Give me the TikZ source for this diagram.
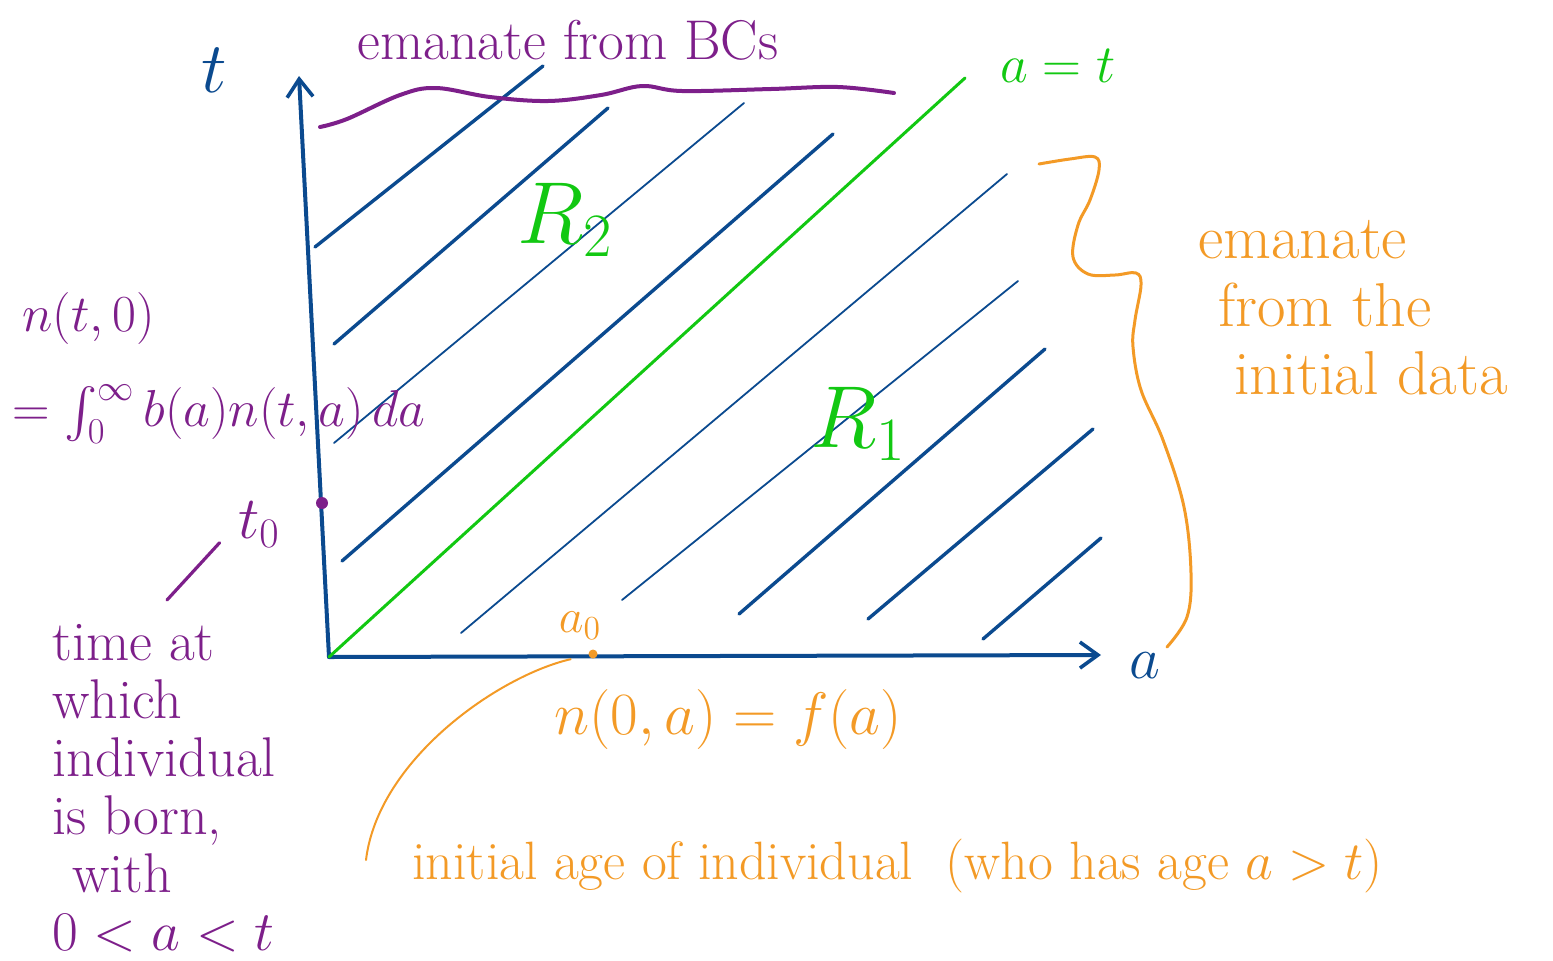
\documentclass[tikz,border=0pt]{standalone}
\usepackage{fix-cm}
\usepackage{amsmath}
\usepackage{tikz}
\usetikzlibrary{arrows.meta}
\definecolor{penblue}{HTML}{0B4A8F}
\definecolor{pengreen}{HTML}{12C812}
\definecolor{penpurple}{HTML}{7D1F8A}
\definecolor{penorange}{HTML}{F39A26}

\begin{document}
\begin{tikzpicture}[x=0.5pt,y=-0.5pt,
  axis/.style={penblue,line width=2pt,line cap=round,
    -{Straight Barb[length=9pt,width=13pt,line width=1.8pt]}},
  hatch/.style={penblue,line width=1.7pt,line cap=round},
  hatchthin/.style={penblue,line width=0.9pt,line cap=round},
  lbl/.style={inner sep=1pt}]
  \useasboundingbox (0,0) rectangle (1553,960);

  % axes and the characteristic a = t
  \coordinate (O) at (329,657);
  \coordinate (ttop) at (299,76);
  \coordinate (aend) at (1101,655);
  \coordinate (diagtop) at (965,78);
  \draw[axis] (O) -- (ttop);
  \draw[axis] (O) -- (aend);
  \draw[pengreen,line width=1.5pt,line cap=round] (O) -- (diagtop);
  \node[lbl,penblue,font=\fontsize{36}{40}\selectfont] (tlab) at (214,70) {$t$};
  \node[lbl,penblue,font=\fontsize{30}{34}\selectfont] (alab) at (1145,666) {$a$};
  \node[lbl,pengreen,font=\fontsize{27}{30}\selectfont] (diag) at (1058,66) {$a=t$};

  % characteristics
  \foreach \xa/\ya/\xb/\yb in {315/247/543/66, 334/344/608/108, 342/561/833/134,
      739/614/1045/349, 868/619/1093/429, 983/639/1101/538}
    \draw[hatch] (\xa,\ya) -- (\xb,\yb);
  \foreach \xa/\ya/\xb/\yb in {334/443/744/103, 461/633/1007/174, 622/600/1018/281}
    \draw[hatchthin] (\xa,\ya) -- (\xb,\yb);
  \node[pengreen,font=\fontsize{44}{48}\selectfont] (Rtwo) at (565,220) {$R_2$};
  \node[pengreen,font=\fontsize{44}{48}\selectfont] (Rone) at (858,424) {$R_1$};

  % boundary condition
  \draw[penpurple,line width=2pt,line cap=round] plot[smooth,tension=0.6] coordinates
    {(320,127) (347,119) (400,95) (436,88) (490,97) (548,101) (601,95) (642,86)
     (682,91) (771,89) (838,87) (894,93)};
  \node[lbl,penpurple,font=\fontsize{28}{30}\selectfont] (bcs) at (568,40) {emanate from BCs};
  \node[lbl,penpurple,anchor=west,font=\fontsize{26}{28}\selectfont] (nbound) at (20,318) {$n(t,0)$};
  \node[lbl,penpurple,anchor=west,font=\fontsize{26}{28}\selectfont] (bint) at (10,414)
    {$=\int_0^\infty b(a)n(t,a)\,da$};
  \node[circle,fill=penpurple,inner sep=0pt,minimum size=6pt] (tdot) at (322,503) {};
  \node[lbl,penpurple,font=\fontsize{30}{32}\selectfont] (tzero) at (259,525) {$t_0$};
  \node[lbl,penpurple,anchor=north west,align=left,font=\fontsize{28}{29}\selectfont] (born)
    at (50,622) {time at\\which\\individual\\is born,\\\hspace*{10pt}with\\$0<a<t$};
  \coordinate (bornfoot) at (167,600);
  \draw[penpurple,line width=1.6pt,line cap=round,shorten >=12pt] (bornfoot) -- (tzero.west);

  % initial data
  \node[circle,fill=penorange,inner sep=0pt,minimum size=4.5pt] (adot) at (593,654) {};
  \node[lbl,penorange,font=\fontsize{24}{26}\selectfont] (azero) at (580,626) {$a_0$};
  \node[lbl,penorange,font=\fontsize{30}{32}\selectfont] (ninit) at (728,719) {$n(0,a)=f(a)$};
  \node[lbl,penorange,anchor=west,font=\fontsize{27}{30}\selectfont] (initage) at (410,866)
    {initial age of individual\hspace{8pt} (who has age $a>t$)};
  \coordinate (agefoot) at (366,860);
  \draw[penorange,line width=1pt,line cap=round,shorten <=9pt] (adot) .. controls +(-95,22) and +(12,-100) .. (agefoot);
  \draw[penorange,line width=1.5pt,line cap=round] plot[smooth,tension=0.6] coordinates
    {(1039,164) (1070,159) (1095,157) (1099,170) (1090,200) (1078,225) (1073,257)
     (1088,274) (1115,275) (1136,273) (1141,285) (1135,320) (1133,347) (1141,390)
     (1163,440) (1184,507) (1191,573) (1187,617) (1167,647)};
  \node[lbl,penorange,anchor=north west,align=left,font=\fontsize{31}{34}\selectfont] (initdata)
    at (1196,218) {emanate\\\hspace*{10pt}from the\\\hspace*{18pt}initial data};
\end{tikzpicture}
\end{document}
